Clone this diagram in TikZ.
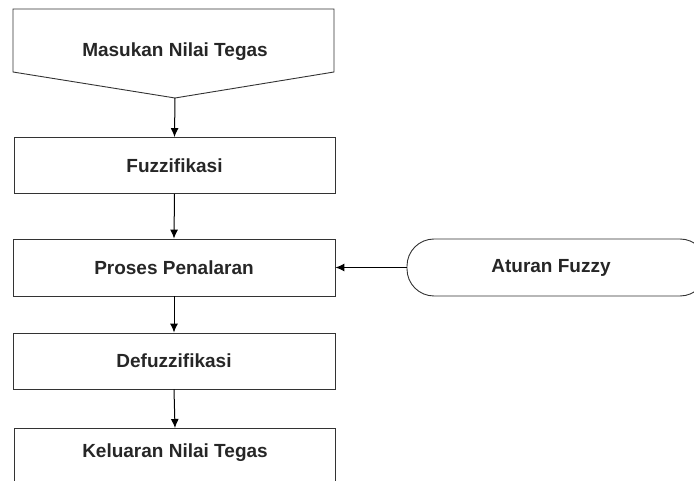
\documentclass[tikz,border=0pt]{standalone}
\usepackage{fontspec}
\setmainfont{Liberation Sans}
\usetikzlibrary{arrows.meta}
\begin{document}
\begin{tikzpicture}[x=1pt,y=-1pt,
  lbl/.style={font=\fontsize{19}{21}\selectfont\bfseries, text=black!85},
  shp/.style={draw=black!80, line width=0.9pt},
  conn/.style={draw=black, line width=1pt, -{Latex[length=9pt,width=8pt]}}]
\useasboundingbox (0,0) rectangle (694,481);
% input shape (off-page connector)
\draw[shp] (13,9) -- (334,9) -- (334,72) -- (175,98) -- (13,72) -- cycle;
\node[lbl] (in) at (175,52) {Masukan Nilai Tegas};
\coordinate (inb) at (175,98);
% boxes
\node[shp, minimum width=321pt, minimum height=56pt, inner sep=0pt] (fz) at (174.5,165.5) {};
\node[lbl] at (fz.center) {Fuzzifikasi};
\node[shp, minimum width=322pt, minimum height=57pt, inner sep=0pt] (pp) at (174,267.5) {};
\node[lbl] at (pp.center) {Proses Penalaran};
\node[shp, minimum width=322pt, minimum height=56pt, inner sep=0pt] (df) at (174,361) {};
\node[lbl] at (df.center) {Defuzzifikasi};
\draw[shp] (14,500) |- (335,428) -- (335,500);
\coordinate (kt) at (175,428);
\node[lbl] (kl) at (175,453) {Keluaran Nilai Tegas};
% aturan fuzzy terminal
\draw[shp, rounded corners=27pt] (407,239) rectangle (707,296);
\coordinate (atl) at (407,267.5);
\node[lbl] (at) at (551,267.5) {Aturan Fuzzy};
% connectors
\draw[conn] (inb) -- (fz.north);
\draw[conn] (fz.south) -- (pp.north);
\draw[conn] (pp.south) -- (df.north);
\draw[conn] (df.south) -- (kt);
\draw[conn] (atl) -- (pp.east);
\end{tikzpicture}
\end{document}
